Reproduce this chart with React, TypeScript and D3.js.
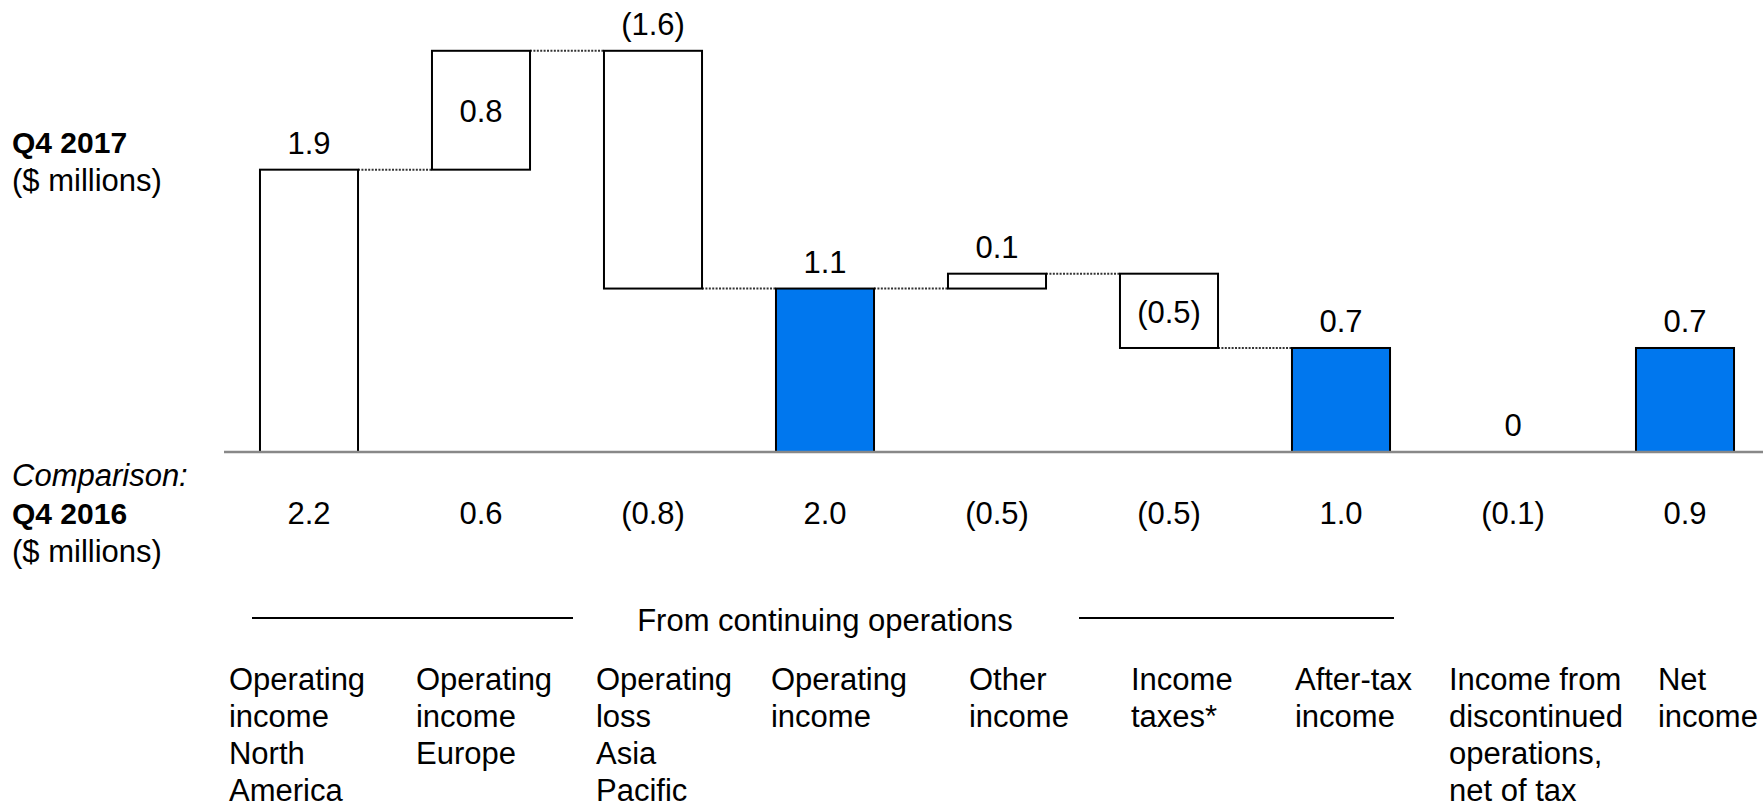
import React from 'react';
import * as d3 from 'd3';

// Bridge from operating income by region to net income, Q4 2017 ($ millions)
const categories = ['na', 'eu', 'apac', 'opIncome', 'other', 'taxes', 'afterTax', 'discontinued', 'net'];

const categoryLines: string[][] = [
  ['Operating', 'income', 'North', 'America'],
  ['Operating', 'income', 'Europe'],
  ['Operating', 'loss', 'Asia', 'Pacific'],
  ['Operating', 'income'],
  ['Other', 'income'],
  ['Income', 'taxes*'],
  ['After-tax', 'income'],
  ['Income from', 'discontinued', 'operations,', 'net of tax'],
  ['Net', 'income'],
];

// Q4 2017 values: steps add to the running total, totals restart from zero
const q4_2017 = [1.9, 0.8, -1.6, 1.1, 0.1, -0.5, 0.7, 0, 0.7];
const barKinds = ['step', 'step', 'step', 'total', 'step', 'step', 'total', 'total', 'total'];

// Q4 2016 comparison row
const q4_2016 = [2.2, 0.6, -0.8, 2.0, -0.5, -0.5, 1.0, -0.1, 0.9];

// Bars whose value label sits inside the box
const labelsInside = ['eu', 'taxes'];

// Category label left edges, relative to each bar's left edge
const categoryLabelShift = [-31, -16, -8, -5, 21, 11, 3, -15, 22];

const W = 1763;
const H = 807;
const FONT = '"Liberation Sans", Arial, Helvetica, sans-serif';
const FS = 31;
const BLUE = '#0077ee';

const fmt = (v: number) => (v < 0 ? `(${Math.abs(v).toFixed(1)})` : v === 0 ? '0' : v.toFixed(1));

export default function App() {
  const x = d3.scaleBand<string>().domain(categories).range([223, 1771]).paddingInner(0.43).paddingOuter(0.215);
  const y = d3.scaleLinear().domain([0, 2.7]).range([452, 50.8]);
  const bw = x.bandwidth();

  let run = 0;
  const boxes = q4_2017.map((v, i) => {
    let start: number;
    let end: number;
    if (barKinds[i] === 'total') {
      start = 0;
      end = v;
    } else {
      start = run;
      end = run + v;
    }
    run = end;
    return { key: categories[i], v, start, end, lo: Math.min(start, end), hi: Math.max(start, end), kind: barKinds[i] };
  });

  const connectors = boxes.slice(0, -1)
    .map((b, i) => ({ b, next: boxes[i + 1], i }))
    .filter(({ b, next }) => !(b.kind === 'total' && next.kind === 'total'));

  const fromLineY = 618;

  return (
    <svg width={W} height={H} style={{ position: 'absolute', left: 0, top: 0, background: '#fff' }} fontFamily={FONT}>
      {/* connectors */}
      {connectors.map(({ b, next, i }) => (
        <line
          key={`c${i}`}
          x1={(x(b.key) as number) + bw}
          x2={x(next.key) as number}
          y1={y(b.end)}
          y2={y(b.end)}
          stroke="#333"
          strokeWidth={2}
          strokeDasharray="2 1.4"
        />
      ))}

      {/* bars */}
      {boxes.map((b) =>
        b.hi - b.lo > 1e-9 ? (
          <rect
            key={b.key}
            x={x(b.key)}
            y={y(b.hi)}
            width={bw}
            height={y(b.lo) - y(b.hi)}
            fill={b.kind === 'total' ? BLUE : '#fff'}
            stroke="#000"
            strokeWidth={2}
          />
        ) : null
      )}

      {/* zero line */}
      <line x1={224} x2={W} y1={y(0)} y2={y(0)} stroke="#888" strokeWidth={2.5} />

      {/* value labels */}
      {boxes.map((b) => {
        const cx = (x(b.key) as number) + bw / 2;
        const inside = labelsInside.includes(b.key);
        const ly = inside ? (y(b.lo) + y(b.hi)) / 2 + 12 : y(b.hi) - 16;
        return (
          <text key={`l${b.key}`} x={cx} y={ly} textAnchor="middle" fontSize={FS} fill="#000">
            {fmt(b.v)}
          </text>
        );
      })}

      {/* left headings */}
      <text x={12} y={153} fontSize={30} fontWeight="bold">Q4 2017</text>
      <text x={12} y={191} fontSize={FS}>($ millions)</text>
      <text x={12} y={486} fontSize={FS} fontStyle="italic">Comparison:</text>
      <text x={12} y={524} fontSize={30} fontWeight="bold">Q4 2016</text>
      <text x={12} y={562} fontSize={FS}>($ millions)</text>

      {/* comparison row */}
      {q4_2016.map((v, i) => (
        <text key={`p${i}`} x={(x(categories[i]) as number) + bw / 2} y={524} textAnchor="middle" fontSize={FS}>
          {fmt(v)}
        </text>
      ))}

      {/* continuing operations bracket */}
      <line x1={252} x2={573} y1={fromLineY} y2={fromLineY} stroke="#000" strokeWidth={2} />
      <line x1={1079} x2={1394} y1={fromLineY} y2={fromLineY} stroke="#000" strokeWidth={2} />
      <text x={(x('opIncome') as number) + bw / 2} y={631} textAnchor="middle" fontSize={FS}>
        From continuing operations
      </text>

      {/* category labels */}
      {categoryLines.map((lines, i) => (
        <text key={`k${i}`} x={(x(categories[i]) as number) + categoryLabelShift[i]} y={690} fontSize={FS}>
          {lines.map((t, j) => (
            <tspan key={j} x={(x(categories[i]) as number) + categoryLabelShift[i]} dy={j === 0 ? 0 : 37}>
              {t}
            </tspan>
          ))}
        </text>
      ))}
    </svg>
  );
}
